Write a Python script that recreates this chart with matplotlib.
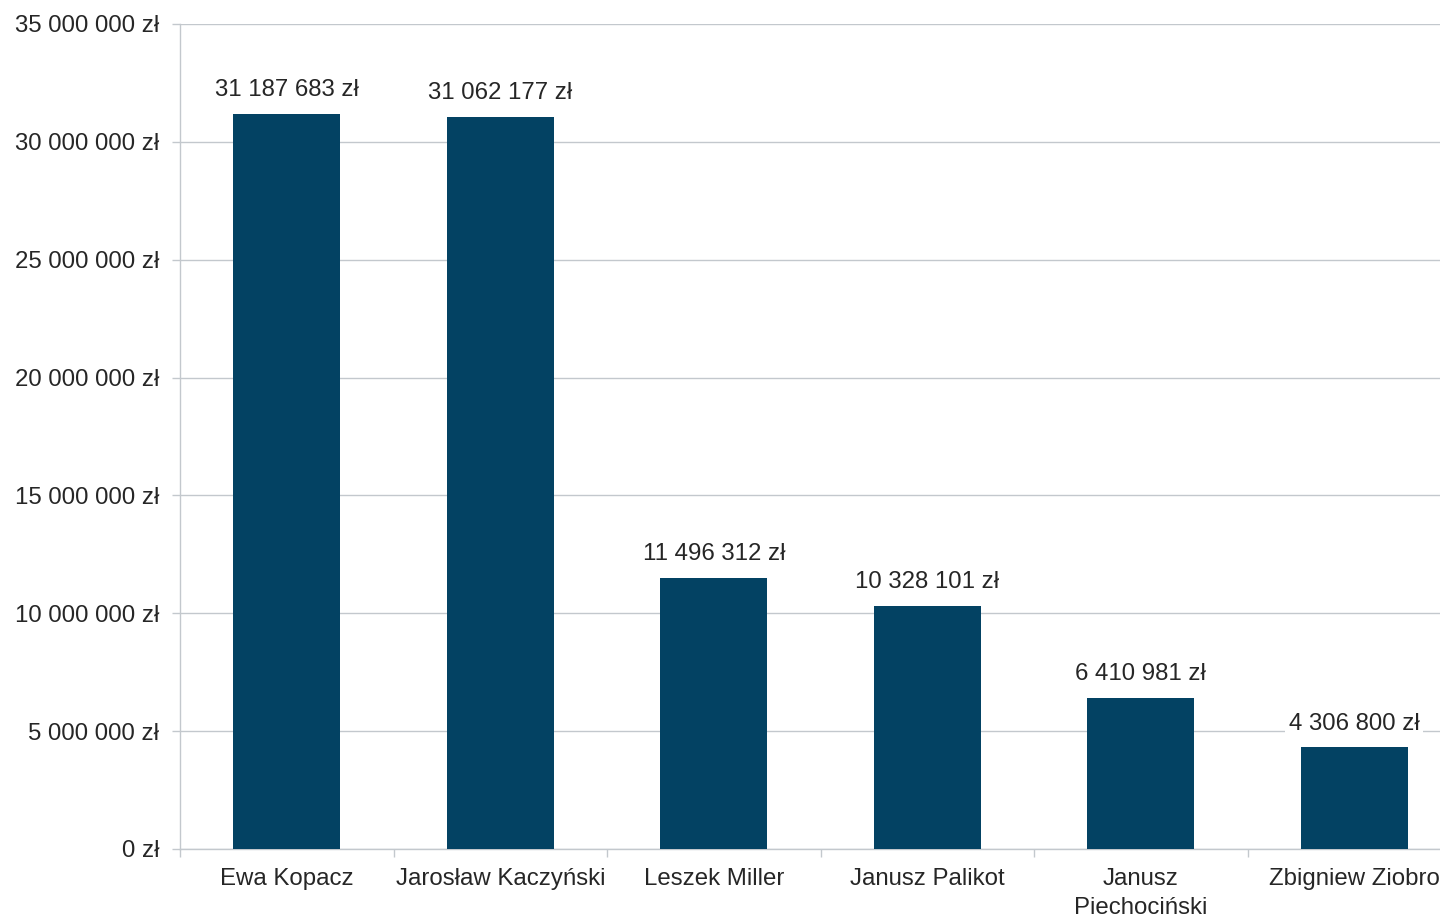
import matplotlib.pyplot as plt
from matplotlib.ticker import FuncFormatter, MultipleLocator

plt.rcParams['font.family'] = ['Liberation Sans', 'DejaVu Sans']

names = ["Ewa Kopacz", "Jarosław Kaczyński", "Leszek Miller",
         "Janusz Palikot", "Janusz\nPiechociński", "Zbigniew Ziobro"]
amounts = [31187683, 31062177, 11496312, 10328101, 6410981, 4306800]

bar_color = "#034263"
text_color = "#262626"
line_color = "#c3c8cd"
fs = 17.3


def zl(v):
    return "{:,.0f} zł".format(v).replace(",", " ")


fig = plt.figure(figsize=(14.4, 9.17), dpi=100)
ax = fig.add_axes([0.125, 0.0742, 0.8896, 0.8997])

x = list(range(len(names)))
ax.bar(x, amounts, width=0.5, color=bar_color, zorder=3)

for xi, v in zip(x, amounts):
    ax.annotate(zl(v), (xi, v), xytext=(0, 9), textcoords="offset points",
                ha="center", va="bottom", fontsize=fs, color=text_color,
                bbox=dict(boxstyle="square,pad=0.15", fc="white", ec="none"),
                zorder=4)

ax.set_xlim(-0.5, len(names) - 0.5)
ax.set_ylim(0, 35000000)
ax.yaxis.set_major_locator(MultipleLocator(5000000))
ax.yaxis.set_major_formatter(FuncFormatter(lambda v, p: zl(v)))
ax.grid(axis="y", color=line_color, linewidth=1, zorder=0)

# category names centred under the bars, tick marks between categories
ax.set_xticks(x)
ax.set_xticklabels(names, linespacing=1.4)
ax.set_xticks([i + 0.5 for i in range(len(names) - 1)] + [-0.5], minor=True)
ax.tick_params(axis="x", which="major", length=0, pad=13.5,
               labelsize=fs, labelcolor=text_color)
ax.tick_params(axis="x", which="minor", length=6, color=line_color, width=1)
ax.tick_params(axis="y", length=6, color=line_color, width=1, pad=9,
               labelsize=fs, labelcolor=text_color)

for s in ["top", "right"]:
    ax.spines[s].set_visible(False)
for s in ["left", "bottom"]:
    ax.spines[s].set_color(line_color)
    ax.spines[s].set_linewidth(1)

fig.savefig("out.png", dpi=100)
